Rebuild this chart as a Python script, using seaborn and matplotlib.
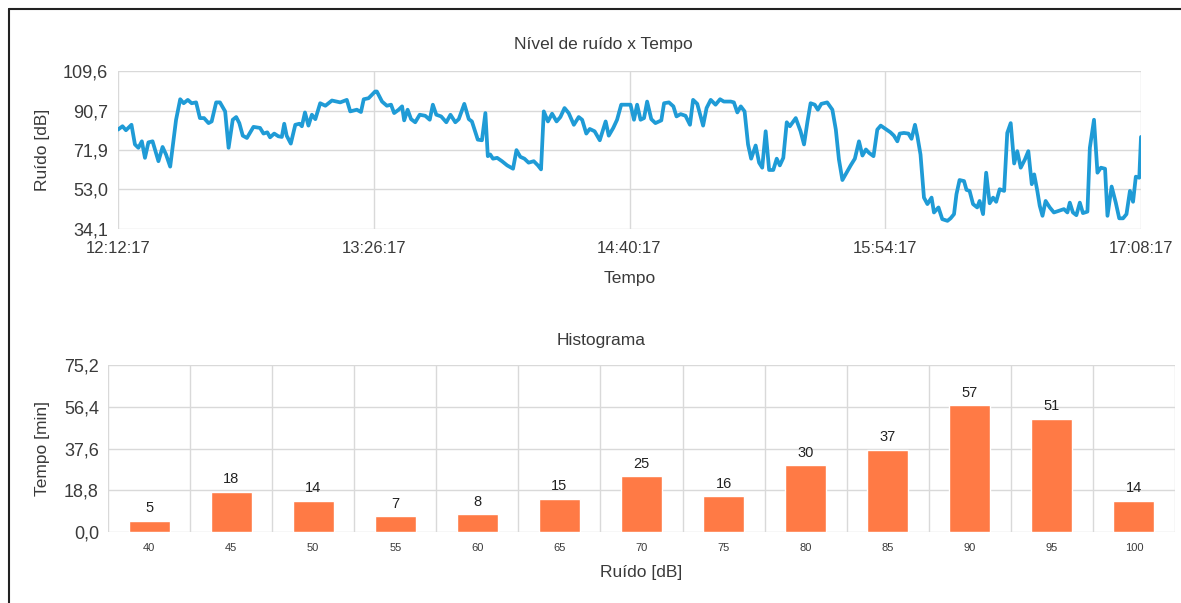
import matplotlib
matplotlib.use("Agg")
import matplotlib.pyplot as plt
import matplotlib.lines as mlines
import seaborn as sns
import numpy as np
import pandas as pd

# data: noise level vs time (minutes after 12:12:17)
minutos = [
    0, 1.3, 2.3, 3.9, 4.9, 5.9, 6.9, 7.8, 8.8, 10.0, 11.7, 12.9, 13.9, 15.1,
    16.8, 18.0, 19.0, 20.2, 21.3, 22.6, 23.7, 24.9, 26.2, 27.1, 28.4, 29.5,
    31.0, 32.0, 33.2, 34.2, 35.1, 36.1, 37.3, 39.2, 41.1, 42.1, 43.2, 44.0,
    45.2, 46.4, 47.4, 48.1, 48.8, 50.0, 51.3, 52.5, 53.2, 54.1, 55.1, 56.1,
    57.1, 58.5, 60.0, 61.9, 64.3, 66.2, 67.2, 69.1, 70.3, 71.1, 72.5, 74.4,
    74.9, 76.4, 77.8, 79.0, 79.9, 81.2, 82.2, 82.8, 83.8, 84.8, 86.0, 87.3,
    88.9, 90.2, 91.1, 92.1, 93.5, 95.0, 96.2, 97.6, 98.6, 100.2, 101.5, 102.4,
    104.1, 105.3, 106.3, 107.0, 107.7, 108.5, 109.7, 111.1, 112.6, 114.3,
    115.3, 116.4, 117.6, 118.8, 120.3, 121.5, 122.4, 123.2, 124.4, 125.6,
    126.9, 128.0, 129.2, 130.4, 131.9, 133.3, 134.3, 135.5, 136.5, 137.9,
    139.4, 141.1, 142.0, 143.3, 144.4, 145.6, 146.8,
    148.3, 149.3, 150.2, 151.2, 152.2, 153.1, 154.3, 155.5, 157.2, 158.0,
    159.4, 160.7, 161.6, 162.8, 164.2, 165.5, 166.4, 167.6, 169.3, 170.3,
    171.5, 172.9, 174.2, 175.3, 177.3, 178.2, 179.2, 180.2, 181.3, 182.3,
    183.2, 184.5, 185.5, 186.4, 187.4, 188.4, 189.6, 190.6, 191.5, 192.5,
    193.5, 194.4, 196.1, 197.5, 198.5, 199.5, 200.4, 201.6, 202.5, 203.5,
    205.2, 206.7, 207.7, 208.6, 209.6, 210.8, 212.0, 213.2, 214.4, 215.4,
    216.4, 217.3, 218.6, 219.7, 220.7,
    222.1, 223.5, 224.5, 225.5, 226.2, 227.4, 228.7, 229.6, 230.6, 231.3,
    232.2, 233.2, 234.2, 235.4, 236.1, 237.4, 238.5, 240.0, 240.9, 241.9,
    242.6, 243.5, 244.8, 245.5, 246.4, 247.4, 248.6, 249.3, 250.3, 251.2,
    252.2, 253.2, 254.1, 255.1, 256.4, 257.3, 258.3, 259.3, 260.2, 261.2,
    262.4, 263.4, 264.4, 265.1, 266.0, 266.7, 267.5, 268.4, 269.6, 270.8,
    272.3, 273.7, 274.7, 275.4, 276.3, 277.3, 278.3, 279.2, 280.5, 281.2,
    282.4, 283.4, 284.4, 285.6, 286.3, 287.5, 288.7, 289.7, 290.8, 291.8,
    292.8, 293.7, 294.5, 295.5, 296.0,
]
ruido_db = [
    81.6, 83.2, 81.3, 83.9, 74.5, 72.9, 76.0, 68.1, 75.5, 76.0, 66.5, 73.3, 69.7, 63.9,
    86.3, 96.1, 94.2, 95.8, 94.2, 94.6, 87.1, 87.1, 84.7, 85.5, 94.6, 94.6,
    90.3, 72.9, 86.3, 87.6, 84.7, 78.7, 77.6, 82.9, 82.4, 79.7, 80.3, 77.9,
    79.7, 78.4, 78.1, 84.4, 78.7, 74.9, 83.9, 84.4, 83.2, 89.8, 83.5, 88.7,
    86.6, 94.2, 93.0, 95.5, 94.6, 95.8, 90.3, 91.1, 90.0, 96.1, 96.6, 99.8,
    99.8, 95.0, 93.0, 93.5, 89.5, 91.1, 92.7, 86.0, 91.1, 86.6, 85.1, 88.7,
    88.2, 86.3, 93.5, 88.7, 87.9, 85.1, 88.7, 85.1, 86.6, 93.9, 86.6, 85.5,
    76.8, 76.5, 89.5, 68.9, 69.7, 67.7, 68.1, 66.5, 64.5, 62.9,
    71.8, 68.6, 67.7, 65.8, 66.5, 64.5, 62.6, 90.3, 85.5, 89.2,
    85.5, 87.6, 91.9, 89.5, 83.9, 87.6, 86.3, 79.7, 81.9, 80.8,
    76.5, 85.5, 78.7, 82.4, 86.3, 93.5, 93.5,
    93.5, 86.3, 93.5, 86.3, 87.1, 95.0, 86.6, 84.7, 86.0, 94.2,
    94.6, 92.7, 87.9, 89.0, 88.2, 83.9, 95.8, 93.9, 83.5, 91.9,
    95.8, 93.5, 96.1, 95.0, 95.0, 94.6, 89.8, 92.7, 90.3, 74.5,
    67.7, 74.0, 65.8, 63.4, 80.8, 62.3, 62.3, 67.7, 64.5, 68.1,
    85.1, 83.2, 87.1, 80.8, 74.5, 85.5, 94.2, 93.5, 91.1, 93.9,
    94.6, 91.1, 81.6, 67.3, 57.5, 61.0, 64.5, 67.7, 76.0, 69.2,
    72.1, 70.5, 68.9, 81.6, 83.5,
    81.9, 80.3, 78.7, 76.0, 79.7, 80.0, 79.7, 77.2, 83.9, 78.4,
    69.7, 49.1, 46.0, 49.1, 42.0, 44.4, 38.8, 38.0, 39.2, 41.2,
    50.7, 57.5, 57.0, 52.8, 52.3, 46.0, 44.4, 47.5, 41.2, 61.0,
    46.4, 49.1, 47.1, 53.1, 52.3, 80.0, 84.7, 65.4, 71.3, 63.4,
    67.3, 71.3, 55.5, 60.2, 52.3, 45.2, 40.4, 47.5, 44.4, 42.0,
    42.8, 43.6, 42.0, 46.7, 42.0, 40.7, 46.7, 41.7, 42.4, 72.9,
    86.3, 61.0, 63.4, 62.9, 40.4, 54.4, 46.7, 39.2, 39.2, 41.2,
    52.3, 47.1, 59.1, 58.6, 78.1,
]
tempo_ticks = [0, 74, 148, 222, 296]
tempo_labels = ["12:12:17", "13:26:17", "14:40:17", "15:54:17", "17:08:17"]
ruido_ticks = [34.1, 53.0, 71.9, 90.7, 109.6]

# data: histogram
faixas = ["40", "45", "50", "55", "60", "65", "70", "75", "80", "85", "90", "95", "100"]
contagem = [5, 18, 14, 7, 8, 15, 25, 16, 30, 37, 57, 51, 14]
hist_ticks = [0.0, 18.8, 37.6, 56.4, 75.2]

sns.set_theme(style="white")
plt.rcParams["font.family"] = ["Liberation Sans", "DejaVu Sans"]
txt = "#3a3a3a"
grid = "#d9d9d9"

W, H = 1181, 603
fig = plt.figure(figsize=(W / 100, H / 100), dpi=100)
ax1 = fig.add_axes([118 / W, 1 - 229 / H, (1141 - 118) / W, 158 / H])
ax2 = fig.add_axes([108 / W, 1 - 532 / H, (1175 - 108) / W, 167 / H])

def virgula(vals):
    return [f"{v:.1f}".replace(".", ",") for v in vals]

# ---- line chart
df = pd.DataFrame({"t": minutos, "v": ruido_db})
sns.lineplot(data=df, x="t", y="v", ax=ax1, color="#1f9bd6", linewidth=2.7)
ax1.set_xlim(0, 296)
ax1.set_ylim(34.1, 109.6)
ax1.set_xticks(tempo_ticks)
ax1.set_xticklabels(tempo_labels)
ax1.set_yticks(ruido_ticks)
ax1.set_yticklabels(virgula(ruido_ticks))
ax1.grid(True, color=grid, linewidth=1)
ax1.tick_params(axis="x", labelsize=12, colors=txt, length=4, width=1, color=grid, pad=5)
ax1.tick_params(axis="y", labelsize=13, colors=txt, length=4, width=1, color=grid, pad=3)
ax1.set_xlabel("Tempo", fontsize=12.5, color=txt)
ax1.set_ylabel("Ruído [dB]", fontsize=12.5, color=txt)
ax1.xaxis.set_label_coords(0.5, (229 - 279) / 158)
ax1.xaxis.label.set_va("center")
ax1.yaxis.set_label_coords((43 - 118) / 1023, 0.5)
ax1.yaxis.label.set_va("center")

# ---- histogram
hd = pd.DataFrame({"faixa": faixas, "n": contagem})
sns.barplot(data=hd, x="faixa", y="n", ax=ax2, color="#ff7a45", saturation=1, width=0.5)
ax2.set_xlim(-0.5, len(faixas) - 0.5)
ax2.set_ylim(0, 75.2)
ax2.set_yticks(hist_ticks)
ax2.set_yticklabels(virgula(hist_ticks))
ax2.set_xticks(np.arange(-0.5, len(faixas)), minor=True)
ax2.yaxis.grid(True, color=grid, linewidth=1)
ax2.xaxis.grid(True, which="minor", color=grid, linewidth=1)
ax2.tick_params(axis="x", which="major", length=0, labelsize=8, colors=txt, pad=8)
ax2.tick_params(axis="x", which="minor", length=6, width=1, color=grid)
ax2.tick_params(axis="y", labelsize=13, colors=txt, length=4, width=1, color=grid, pad=2.5)
for i, n in enumerate(contagem):
    ax2.text(i, n + 2.5, str(n), ha="center", va="bottom", fontsize=10.5, color="#222222")
ax2.set_xlabel("Ruído [dB]", fontsize=12.5, color=txt)
ax2.set_ylabel("Tempo [min]", fontsize=12.5, color=txt)
ax2.xaxis.set_label_coords(0.5, (532 - 573) / 167)
ax2.xaxis.label.set_va("center")
ax2.yaxis.set_label_coords((43 - 108) / 1067, 0.5)
ax2.yaxis.label.set_va("center")

for ax in (ax1, ax2):
    for s in ax.spines.values():
        s.set_visible(False)

# chart titles, centred on the chart area as in the original
fig.text(603 / W, 1 - 44 / H, "Nível de ruído x Tempo", ha="center", va="center", fontsize=12.5, color=txt)
fig.text(601 / W, 1 - 340 / H, "Histograma", ha="center", va="center", fontsize=12.5, color=txt)

# screenshot frame (left and top edges)
fig.add_artist(mlines.Line2D([9 / W, 9 / W], [0, 1 - 9 / H], color="#222222", lw=1.5))
fig.add_artist(mlines.Line2D([9 / W, 1], [1 - 9 / H, 1 - 9 / H], color="#222222", lw=1.5))

fig.savefig("out.png", dpi=100)
